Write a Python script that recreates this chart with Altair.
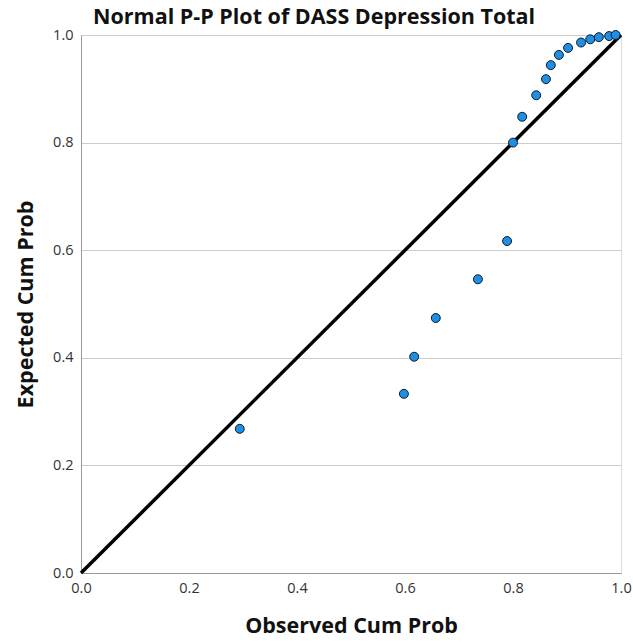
import altair as alt
import pandas as pd

observed = [0.294, 0.598, 0.617, 0.657, 0.735, 0.789, 0.800, 0.817, 0.843, 0.861,
            0.870, 0.885, 0.902, 0.926, 0.943, 0.959, 0.978, 0.990]
expected = [0.268, 0.333, 0.402, 0.474, 0.546, 0.617, 0.800, 0.848, 0.888, 0.918,
            0.944, 0.963, 0.976, 0.986, 0.992, 0.996, 0.998, 1.000]
line_x = [0.0, 1.0]
line_y = [0.0, 1.0]

pts = pd.DataFrame({"obs": observed, "exp": expected})
ln = pd.DataFrame({"obs": line_x, "exp": line_y})

FONT = "Open Sans"
xs = alt.Scale(domain=[0, 1], nice=False, zero=False)
ys = alt.Scale(domain=[0, 1], nice=False, zero=False)

xax = alt.Axis(title="Observed Cum Prob", values=[0, 0.2, 0.4, 0.6, 0.8, 1.0], format=".1f",
               grid=False, ticks=False, domainColor="#999999", labelFontSize=14.5,
               labelColor="#333333", labelFont=FONT, titleFont=FONT, titleFontSize=21.5,
               titleFontWeight="bold", titleColor="#111111", labelPadding=8, titlePadding=21,
               labelFlush=False)
yax = alt.Axis(title="Expected Cum Prob", values=[0, 0.2, 0.4, 0.6, 0.8, 1.0], format=".1f",
               grid=True, gridColor="#cccccc", ticks=False, domainColor="#999999",
               labelFontSize=14.5, labelColor="#333333", labelFont=FONT, titleFont=FONT,
               titleFontSize=21.5, titleFontWeight="bold", titleColor="#111111",
               labelPadding=8, titlePadding=15, labelFlush=False)

points = alt.Chart(pts).mark_point(filled=True, shape="circle", size=80, fill="#1f8fe3",
                                   stroke="#0a1a2a", strokeWidth=1, opacity=1).encode(
    x=alt.X("obs:Q", scale=xs, axis=xax),
    y=alt.Y("exp:Q", scale=ys, axis=yax),
)
refline = alt.Chart(ln).mark_line(color="black", strokeWidth=3.5).encode(
    x=alt.X("obs:Q", scale=xs),
    y=alt.Y("exp:Q", scale=ys),
)

chart = alt.layer(refline, points).properties(
    width=540, height=538,
    title=alt.TitleParams("Normal P-P Plot of DASS Depression Total", anchor="start", dx=12,
                          frame="group", font=FONT, fontSize=21.5, fontWeight="bold",
                          color="#111111", offset=-1),
    autosize=alt.AutoSizeParams(type="none"),
    padding={"left": 81, "top": 35, "right": 12, "bottom": 71},
).configure_view(stroke=None).configure(background="white")

chart.save("out.html", embed_options={"renderer": "svg", "actions": False})
